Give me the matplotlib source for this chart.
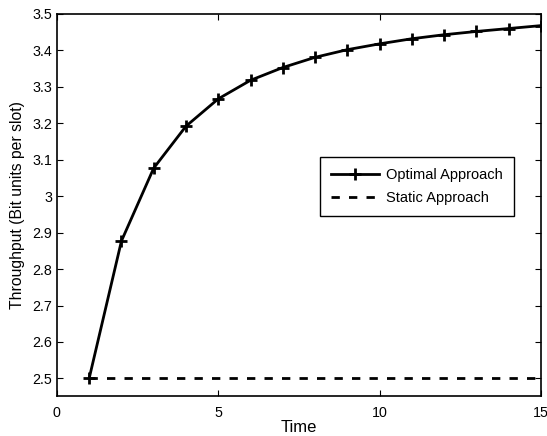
import matplotlib
matplotlib.use("Agg")
import matplotlib.pyplot as plt

time = [1, 2, 3, 4, 5, 6, 7, 8, 9, 10, 11, 12, 13, 14, 15]
optimal = [2.5, 2.877, 3.077, 3.192, 3.267, 3.318, 3.353, 3.381, 3.402,
           3.418, 3.432, 3.443, 3.452, 3.460, 3.468]
static = [2.5] * len(time)

x_ticks = [0, 5, 10, 15]
y_ticks = [2.5, 2.6, 2.7, 2.8, 2.9, 3.0, 3.1, 3.2, 3.3, 3.4, 3.5]
y_labels = ["2.5", "2.6", "2.7", "2.8", "2.9", "3", "3.1", "3.2", "3.3", "3.4", "3.5"]

plt.rcParams["font.family"] = ["Liberation Sans", "DejaVu Sans"]

fig = plt.figure(figsize=(5.47, 4.36), dpi=100)
ax = fig.add_axes([0.104, 0.092, 0.885, 0.876])

ax.plot(time, optimal, "k-+", lw=2, ms=8, mew=2, label="Optimal Approach")
ax.plot(time, static, "k--", lw=2, dashes=(3, 3.3), label="Static Approach")

ax.set_xlim(0, 15)
ax.set_ylim(2.452, 3.5)
ax.set_xticks(x_ticks)
ax.set_yticks(y_ticks)
ax.set_yticklabels(y_labels)
ax.tick_params(direction="in", top=True, right=True, labelsize=10.3, length=4, width=0.8)
ax.tick_params(axis="x", pad=7.5)
for s in ax.spines.values():
    s.set_linewidth(1.2)

ax.set_xlabel("Time", fontsize=12, labelpad=0)
ax.set_ylabel("Throughput (Bit units per slot)", fontsize=11.3, labelpad=5)

leg = ax.legend(loc="upper left", bbox_to_anchor=(0.543, 0.626), fontsize=10.5,
                fancybox=False, framealpha=1, edgecolor="black",
                handlelength=3.3, handletextpad=0.5, borderpad=0.75,
                labelspacing=0.62, borderaxespad=0)
leg.get_frame().set_linewidth(1.0)

fig.savefig("out.png", dpi=100)
